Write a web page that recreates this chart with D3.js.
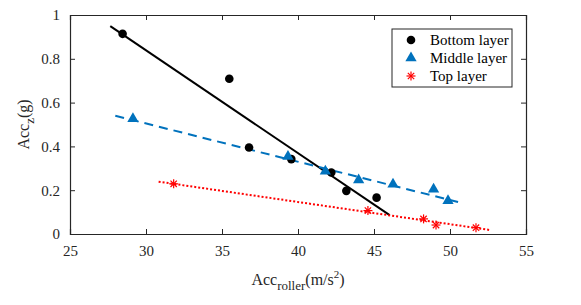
<!DOCTYPE html>
<html>
<head>
<meta charset="utf-8">
<script src="https://cdn.jsdelivr.net/npm/d3@7"></script>
<style>
  body { margin: 0; background: #fff; }
  svg text { font-family: 'Liberation Serif', 'Times New Roman', serif; }
</style>
</head>
<body>
<svg id="chart"></svg>
<script>
// Data
const bottomX = [28.46, 35.48, 36.78, 39.56, 42.19, 43.18, 45.17];
const bottomY = [0.914, 0.709, 0.395, 0.342, 0.281, 0.197, 0.166];
const middleX = [29.14, 39.34, 41.8, 43.99, 46.25, 48.92, 49.87];
const middleY = [0.526, 0.354, 0.287, 0.247, 0.227, 0.204, 0.152];
const topX = [31.82, 44.6, 48.26, 49.08, 51.71];
const topY = [0.229, 0.107, 0.069, 0.041, 0.029];

// Fit lines (end points)
const bottomFitX = [27.65, 46.03];
const bottomFitY = [0.949, 0.086];
const middleFitX = [27.98, 50.53];
const middleFitY = [0.540, 0.146];
const topFitX = [30.83, 52.65];
const topFitY = [0.239, 0.018];

const xTicks = [25, 30, 35, 40, 45, 50, 55];
const yTicks = [0, 0.2, 0.4, 0.6, 0.8, 1];
const legendLabels = ['Bottom layer', 'Middle layer', 'Top layer'];

const width = 581;
const height = 305;
const margin = { top: 15, right: 55, bottom: 71, left: 70 };
const plotW = width - margin.left - margin.right;
const plotH = height - margin.top - margin.bottom;
const blue = '#0072BD';
const red = '#FF0000';
const axisColor = '#262626';

const svg = d3.select('#chart').attr('width', width).attr('height', height);
const chart = svg.append('g').attr('transform', `translate(${margin.left},${margin.top})`);

const x = d3.scaleLinear().domain([25, 55]).range([0, plotW]);
const y = d3.scaleLinear().domain([0, 1]).range([plotH, 0]);

const fmtY = (d) => (d === 0 || d === 1 ? d3.format('d')(d) : d3.format('.1f')(d));

// Axes with inward ticks, boxed
const styleAxis = (g) => {
  g.attr('font-size', 15).attr('font-family', 'Liberation Serif, serif');
  g.select('.domain').attr('stroke', axisColor).attr('stroke-width', 1.2);
  g.selectAll('.tick line').attr('stroke', axisColor);
  g.selectAll('.tick text').attr('fill', axisColor);
};
chart.append('g')
  .attr('transform', `translate(0,${plotH})`)
  .call(d3.axisBottom(x).tickValues(xTicks).tickSize(-5).tickPadding(11).tickFormat(d3.format('d')))
  .call(styleAxis);
chart.append('g')
  .call(d3.axisTop(x).tickValues(xTicks).tickSize(-5).tickFormat(''))
  .call(styleAxis);
chart.append('g')
  .call(d3.axisLeft(y).tickValues(yTicks).tickSize(-5).tickPadding(10).tickFormat(fmtY))
  .call(styleAxis);
chart.append('g')
  .attr('transform', `translate(${plotW},0)`)
  .call(d3.axisRight(y).tickValues(yTicks).tickSize(-5).tickFormat(''))
  .call(styleAxis);

// Fit lines
const line = d3.line().x((d) => x(d[0])).y((d) => y(d[1]));
chart.append('path').datum(d3.zip(bottomFitX, bottomFitY)).attr('d', line)
  .attr('fill', 'none').attr('stroke', '#000').attr('stroke-width', 2);
chart.append('path').datum(d3.zip(middleFitX, middleFitY)).attr('d', line)
  .attr('fill', 'none').attr('stroke', blue).attr('stroke-width', 2).attr('stroke-dasharray', '9,6');
chart.append('path').datum(d3.zip(topFitX, topFitY)).attr('d', line)
  .attr('fill', 'none').attr('stroke', red).attr('stroke-width', 2).attr('stroke-dasharray', '2,2');

// Markers
const triangle = d3.symbol().type(d3.symbolTriangle).size(55);
const asterisk = (g) => {
  const r = 4.5;
  [0, 45, 90, 135].forEach((a) => {
    const rad = (a * Math.PI) / 180;
    g.append('line')
      .attr('x1', -r * Math.cos(rad)).attr('y1', -r * Math.sin(rad))
      .attr('x2', r * Math.cos(rad)).attr('y2', r * Math.sin(rad))
      .attr('stroke', red).attr('stroke-width', 1.2);
  });
};

chart.append('g').selectAll('circle')
  .data(d3.zip(bottomX, bottomY))
  .join('circle')
  .attr('cx', (d) => x(d[0])).attr('cy', (d) => y(d[1]))
  .attr('r', 4.3).attr('fill', '#000');

chart.append('g').selectAll('path')
  .data(d3.zip(middleX, middleY))
  .join('path')
  .attr('d', triangle)
  .attr('transform', (d) => `translate(${x(d[0])},${y(d[1])})`)
  .attr('fill', blue);

chart.append('g').selectAll('g')
  .data(d3.zip(topX, topY))
  .join('g')
  .attr('transform', (d) => `translate(${x(d[0])},${y(d[1])})`)
  .each(function () { asterisk(d3.select(this)); });

// Legend
const legend = svg.append('g').attr('transform', 'translate(392,29)');
legend.append('rect').attr('width', 120).attr('height', 58)
  .attr('fill', '#fff').attr('stroke', axisColor).attr('stroke-width', 1);
legendLabels.forEach((label, i) => {
  const ly = 11 + i * 18;
  const item = legend.append('g').attr('transform', `translate(19,${ly})`);
  if (i === 0) item.append('circle').attr('r', 4.3).attr('fill', '#000');
  if (i === 1) item.append('path').attr('d', triangle).attr('fill', blue);
  if (i === 2) asterisk(item);
  legend.append('text').attr('x', 38).attr('y', ly + 5)
    .attr('font-size', 15).attr('fill', '#000').text(label);
});

// Axis labels
const xl = svg.append('text')
  .attr('x', margin.left + plotW / 2).attr('y', 285)
  .attr('text-anchor', 'middle').attr('font-size', 16).attr('fill', axisColor);
xl.append('tspan').text('Acc');
xl.append('tspan').attr('font-size', 13).attr('dy', 5).text('roller');
xl.append('tspan').attr('dy', -5).text('(m/s');
xl.append('tspan').attr('font-size', 11).attr('dy', -7).text('2');
xl.append('tspan').attr('dy', 7).text(')');

const yl = svg.append('text')
  .attr('transform', `translate(29,${margin.top + plotH / 2}) rotate(-90)`)
  .attr('text-anchor', 'middle').attr('font-size', 16).attr('fill', axisColor);
yl.append('tspan').text('Acc');
yl.append('tspan').attr('font-size', 13).attr('dy', 5).text('z');
yl.append('tspan').attr('dy', -5).text('(g)');
</script>
</body>
</html>
